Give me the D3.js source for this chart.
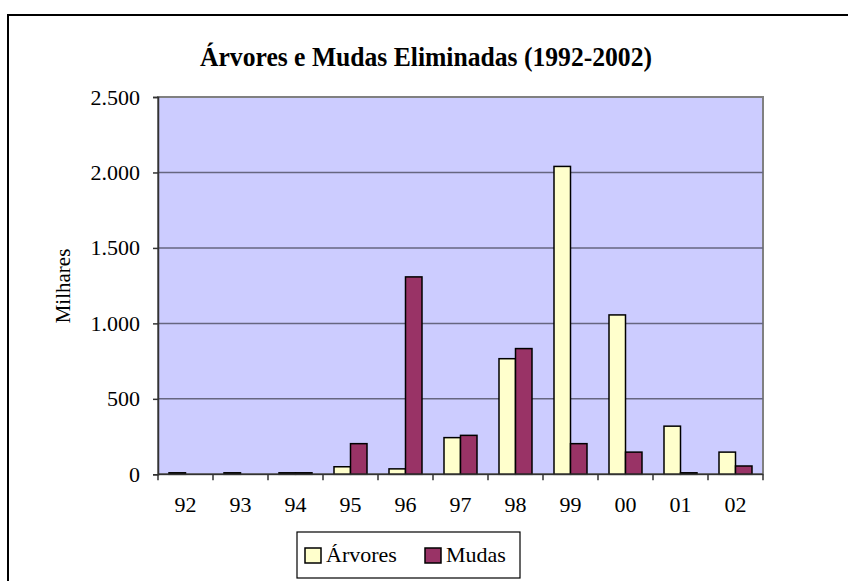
<!DOCTYPE html>
<html>
<head>
<meta charset="utf-8">
<script src="https://cdn.jsdelivr.net/npm/d3@7"></script>
<style>
	body{ margin:0; background:#fff; }
	text{ font-family:"Liberation Serif", "DejaVu Serif", serif; fill:#000; }
</style>
</head>
<body>
<div id="canvas"></div>
<script>
var years = ["92","93","94","95","96","97","98","99","00","01","02"];
var arvores = [10, 10, 10, 50, 36, 243, 766, 2040, 1056, 319, 147];
var mudas = [0, 0, 10, 203, 1308, 258, 833, 203, 147, 10, 55];
var seriesNames = ["Árvores", "Mudas"];
var seriesColors = ["#FFFFCC", "#993366"];
var yTicks = [0, 500, 1000, 1500, 2000, 2500];
var title = "Árvores e Mudas Eliminadas (1992-2002)";
var yLabel = "Milhares";

var svg = d3.select("#canvas").append("svg")
	.attr("width", 848)
	.attr("height", 581);

// outer chart frame (runs off the right and bottom edges)
svg.append("rect")
	.attr("x", 8).attr("y", 15)
	.attr("width", 900).attr("height", 700)
	.attr("fill", "#fff")
	.attr("stroke", "#000")
	.attr("stroke-width", 2);

var plotL = 158, plotR = 763, plotT = 97, plotB = 474.3;

var y = d3.scaleLinear().domain([0, 2500]).range([plotB, plotT]);
var x0 = d3.scaleBand().domain(years).range([plotL, plotR])
	.paddingInner(0.4).paddingOuter(0.2);
var x1 = d3.scaleBand().domain(seriesNames).range([0, x0.bandwidth()]);

// plot area
svg.append("rect")
	.attr("x", plotL).attr("y", plotT)
	.attr("width", plotR - plotL).attr("height", plotB - plotT)
	.attr("fill", "#CCCCFF")
	.attr("stroke", "#808080")
	.attr("stroke-width", 2);

svg.selectAll("line.grid").data(yTicks.slice(1, -1))
	.enter().append("line")
	.attr("class", "grid")
	.attr("x1", plotL).attr("x2", plotR)
	.attr("y1", function(d){ return y(d); })
	.attr("y2", function(d){ return y(d); })
	.attr("stroke", "#666680")
	.attr("stroke-width", 1.5);

var rows = [];
years.forEach(function(yr, i){
	rows.push({year: yr, s: seriesNames[0], v: arvores[i], c: seriesColors[0]});
	rows.push({year: yr, s: seriesNames[1], v: mudas[i], c: seriesColors[1]});
});

svg.selectAll("rect.bar").data(rows.filter(function(d){ return d.v > 0; }))
	.enter().append("rect")
	.attr("class", "bar")
	.attr("x", function(d){ return x0(d.year) + x1(d.s); })
	.attr("y", function(d){ return y(d.v); })
	.attr("width", x1.bandwidth())
	.attr("height", function(d){ return y(0) - y(d.v); })
	.attr("fill", function(d){ return d.c; })
	.attr("stroke", "#000")
	.attr("stroke-width", 1.5);

// y axis
var ptFormat = d3.formatLocale({decimal: ",", thousands: ".", grouping: [3], currency: ["", ""]}).format(",d");
var yAxis = svg.append("g")
	.attr("transform", "translate(" + plotL + ",0)")
	.call(d3.axisLeft(y).tickValues(yTicks).tickSize(5).tickPadding(13).tickFormat(ptFormat));
yAxis.select(".domain").attr("stroke", "#333").attr("stroke-width", 1.5);
yAxis.selectAll(".tick line").attr("stroke", "#333").attr("stroke-width", 1.5);
yAxis.selectAll(".tick text")
	.style("font-family", "'Liberation Serif', serif")
	.style("font-size", "22px")
	.attr("fill", "#000");

// x axis, ticks between categories
var half = (x0.step() - x0.bandwidth()) / 2;
var bounds = years.map(function(d){ return x0(d) - half; });
bounds.push(x0(years[years.length - 1]) + x0.bandwidth() + half);
svg.append("line")
	.attr("x1", plotL).attr("x2", plotR)
	.attr("y1", plotB).attr("y2", plotB)
	.attr("stroke", "#333").attr("stroke-width", 1.5);
svg.selectAll("line.xtick").data(bounds)
	.enter().append("line")
	.attr("class", "xtick")
	.attr("x1", function(d){ return d; })
	.attr("x2", function(d){ return d; })
	.attr("y1", plotB).attr("y2", plotB + 6)
	.attr("stroke", "#333").attr("stroke-width", 1.5);
svg.selectAll("text.xlab").data(years)
	.enter().append("text")
	.attr("class", "xlab")
	.attr("x", function(d){ return x0(d) + x0.bandwidth() / 2; })
	.attr("y", 512)
	.attr("text-anchor", "middle")
	.style("font-size", "22px")
	.text(function(d){ return d; });

// title
svg.append("text")
	.attr("x", 426).attr("y", 66)
	.attr("text-anchor", "middle")
	.attr("textLength", 452)
	.attr("lengthAdjust", "spacingAndGlyphs")
	.style("font-size", "28px")
	.style("font-weight", "bold")
	.text(title);

svg.append("text")
	.attr("transform", "translate(70,286) rotate(-90)")
	.attr("text-anchor", "middle")
	.style("font-size", "21px")
	.text(yLabel);

// legend
var legend = svg.append("g");
legend.append("rect")
	.attr("x", 297).attr("y", 532)
	.attr("width", 223).attr("height", 46)
	.attr("fill", "#fff")
	.attr("stroke", "#000")
	.attr("stroke-width", 1.2);
var legX = [305, 425];
var item = legend.selectAll("g.item").data(seriesNames)
	.enter().append("g")
	.attr("class", "item")
	.attr("transform", function(d, i){ return "translate(" + legX[i] + ",0)"; });
item.append("rect")
	.attr("x", 0).attr("y", 548)
	.attr("width", 16).attr("height", 15)
	.attr("fill", function(d, i){ return seriesColors[i]; })
	.attr("stroke", "#000")
	.attr("stroke-width", 1.5);
item.append("text")
	.attr("x", 21).attr("y", 562)
	.style("font-size", "22px")
	.text(function(d){ return d; });
</script>
</body>
</html>
